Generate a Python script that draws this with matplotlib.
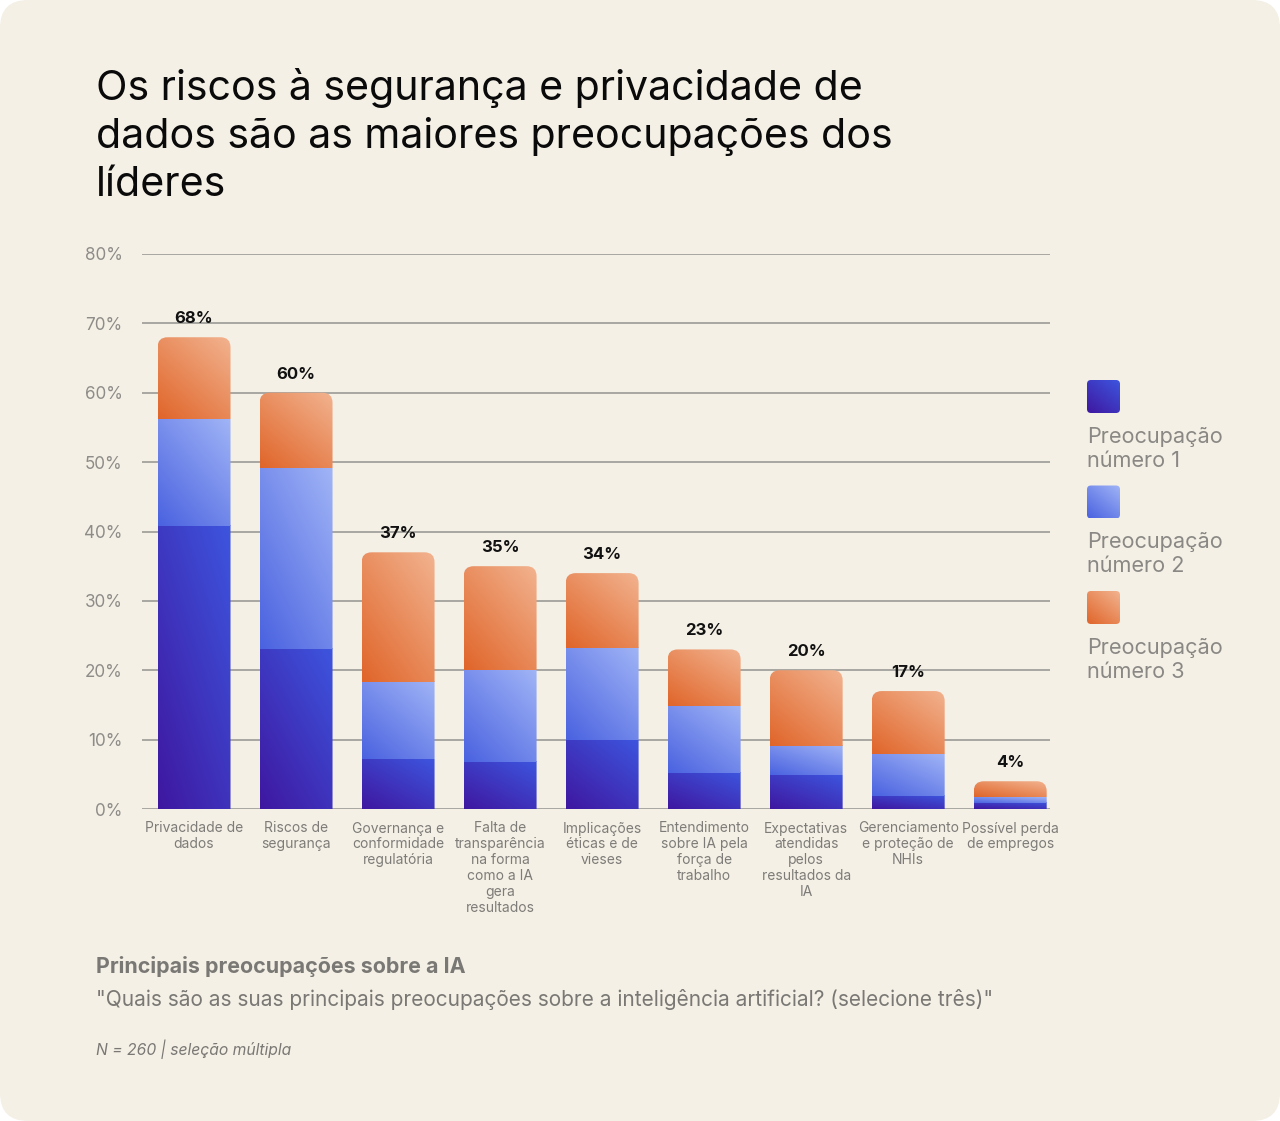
import numpy as np
import matplotlib
matplotlib.use("Agg")
import matplotlib.pyplot as plt
from matplotlib.patches import FancyBboxPatch
from matplotlib.colors import to_rgb

categories = [
    "Privacidade de\ndados",
    "Riscos de\nsegurança",
    "Governança e\nconformidade\nregulatória",
    "Falta de\ntransparência\nna forma\ncomo a IA\ngera\nresultados",
    "Implicações\néticas e de\nvieses",
    "Entendimento\nsobre IA pela\nforça de\ntrabalho",
    "Expectativas\natendidas\npelos\nresultados da\nIA",
    "Gerenciamento\ne proteção de\nNHIs",
    "Possível perda\nde empregos",
]
concern_1 = [40.8, 23.1, 7.2, 6.8, 9.9, 5.2, 4.9, 1.9, 0.9]
concern_2 = [15.4, 26.0, 11.1, 13.2, 13.3, 9.6, 4.2, 6.0, 0.8]
concern_3 = [11.8, 10.9, 18.7, 15.0, 10.8, 8.2, 10.9, 9.5, 2.2]
totals = [68, 60, 37, 35, 34, 23, 20, 17, 4]
series_names = ["Preocupação\nnúmero 1", "Preocupação\nnúmero 2", "Preocupação\nnúmero 3"]
yticks = [0, 10, 20, 30, 40, 50, 60, 70, 80]

# gradient colours (bottom-left -> top-right)
grads = [("#3F17A0", "#3D55DE"), ("#4A62E0", "#A0B4F6"), ("#E0652A", "#F2B38F")]

W, H = 1280, 1121
BG = "#F4F0E6"
plt.rcParams["font.family"] = ["Inter", "DejaVu Sans"]

fig = plt.figure(figsize=(W / 100, H / 100), dpi=100)
fig.patch.set_facecolor("white")

# card background
bg = fig.add_axes([0, 0, 1, 1], zorder=-10)
bg.set_xlim(0, W)
bg.set_ylim(H, 0)
bg.axis("off")
bg.add_patch(FancyBboxPatch((0, 0), W, H, boxstyle="round,pad=0,rounding_size=28",
                            fc=BG, ec="none"))


def fx(px):
    return px / W


def fy(py):
    return 1 - py / H


def gradient(c0, c1, n=64):
    a, b = np.array(to_rgb(c0)), np.array(to_rgb(c1))
    xx, yy = np.meshgrid(np.linspace(0, 1, n), np.linspace(0, 1, n))
    t = (0.45 * xx + 0.55 * yy)[..., None]
    return a * (1 - t) + b * t


# main axes: x 142..1050, y 254..809 px
ax = fig.add_axes([fx(142), fy(809), (1050 - 142) / W, (809 - 254) / H])
ax.set_facecolor("none")
x = np.arange(len(categories))
width = 0.715
xlim = (-0.51, 8.39)
ylim = (0, 80)

for yv in yticks:
    ax.axhline(yv, color="#9C9A96", lw=1.2, zorder=1)

px_per_x = (1050 - 142) / (xlim[1] - xlim[0])
px_per_y = (809 - 254) / (ylim[1] - ylim[0])
aspect = px_per_x / px_per_y
rad = 10 / px_per_x

bars = ax.bar(x, totals, width=width, color="none", zorder=2)
for i, b in enumerate(bars):
    x0 = b.get_x()
    clip = FancyBboxPatch((x0, -5), width, totals[i] + 5,
                          boxstyle=f"round,pad=0,rounding_size={rad}",
                          mutation_aspect=aspect, transform=ax.transData,
                          fc="none", ec="none")
    ax.add_patch(clip)
    bottom = 0
    for vals, (c0, c1) in zip([concern_1, concern_2, concern_3], grads):
        top = totals[i] if vals is concern_3 else bottom + vals[i]
        im = ax.imshow(gradient(c0, c1), origin="lower", aspect="auto",
                       extent=[x0, x0 + width, bottom, top],
                       interpolation="bilinear", zorder=3)
        im.set_clip_path(clip)
        bottom = top
    ax.text(x[i], totals[i] + 1.6, f"{totals[i]}%", ha="center", va="bottom",
            fontsize=12, fontweight="bold", color="#111111", zorder=4)

ax.set_xlim(*xlim)
ax.set_ylim(*ylim)
ax.set_yticks(yticks)
ax.set_yticklabels([f"{v}%" for v in yticks], fontsize=12.3, color="#8E8C88")
ax.set_xticks(x)
ax.set_xticklabels(categories, fontsize=10, color="#7E7C78", linespacing=1.17,
                   va="top")
ax.tick_params(axis="both", length=0)
ax.tick_params(axis="y", pad=14)
ax.tick_params(axis="x", pad=9)
for s in ax.spines.values():
    s.set_visible(False)

# legend
lg = fig.add_axes([0, 0, 1, 1], zorder=5)
lg.set_xlim(0, W)
lg.set_ylim(H, 0)
lg.axis("off")
for k, (name, (c0, c1)) in enumerate(zip(series_names, grads)):
    top = 380 + k * 105.5
    sq = FancyBboxPatch((1087, top), 33, 33, boxstyle="round,pad=0,rounding_size=4",
                        fc="none", ec="none", transform=lg.transData)
    lg.add_patch(sq)
    im = lg.imshow(gradient(c0, c1)[::-1], extent=[1087, 1120, top + 33, top],
                   aspect="auto", interpolation="bilinear")
    im.set_clip_path(sq)
    lg.text(1087, top + 47, name, fontsize=15.6, color="#8A8884", va="top",
            ha="left", linespacing=1.25)
lg.set_xlim(0, W)
lg.set_ylim(H, 0)

# title and footer
title_lines = ["Os riscos à segurança e privacidade de",
               "dados são as maiores preocupações dos",
               "líderes"]
for j, line in enumerate(title_lines):
    fig.text(fx(96), fy(100 + 48 * j), line, fontsize=29.6, color="#0A0A0A",
             ha="left", va="baseline")

fig.text(fx(96), fy(973), "Principais preocupações sobre a IA", fontsize=15.4,
         fontweight="bold", color="#7A7874", ha="left", va="baseline")
fig.text(fx(96), fy(1006),
         "\"Quais são as suas principais preocupações sobre a inteligência artificial? (selecione três)\"",
         fontsize=15, color="#7A7874", ha="left", va="baseline")
fig.text(fx(96), fy(1055), "N = 260 | seleção múltipla", fontsize=11.3,
         style="italic", color="#7A7874", ha="left", va="baseline")

fig.savefig("out.png", dpi=100, facecolor=fig.get_facecolor())
